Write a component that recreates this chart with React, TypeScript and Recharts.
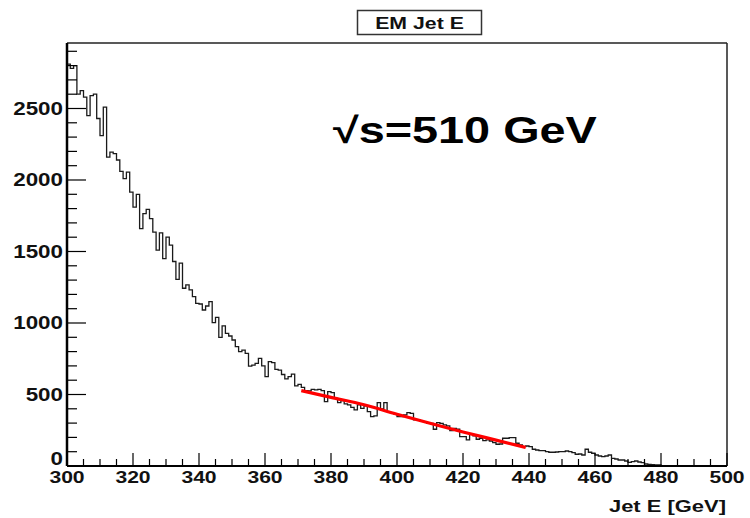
import { ComposedChart, Line, XAxis, YAxis, ReferenceLine } from "recharts";

// EM jet energy histogram, 1 GeV bins from 300 to 500 GeV
const binStart = 300;
const counts = [
  2810, 2780, 2800, 2600, 2625, 2580, 2450, 2590, 2600, 2430,
  2310, 2510, 2160, 2195, 2185, 2140, 2060, 2010, 2055, 1915,
  1810, 1900, 1660, 1765, 1795, 1730, 1635, 1510, 1630, 1450,
  1600, 1545, 1430, 1305, 1418, 1243, 1266, 1231, 1184, 1137,
  1133, 1091, 1119, 1149, 1002, 1040, 900, 980, 928, 909,
  881, 835, 800, 811, 788, 699, 706, 718, 753, 700,
  625, 730, 723, 676, 671, 640, 609, 625, 643, 560,
  571, 550, 527, 525, 536, 532, 536, 527, 450, 520,
  513, 473, 443, 457, 434, 427, 410, 392, 427, 403,
  420, 380, 345, 350, 443, 400, 443, 380, 373, 364,
  345, 345, 357, 373, 368, 322, 322, 315, 310, 298,
  298, 257, 303, 298, 287, 280, 247, 263, 257, 205,
  205, 182, 224, 210, 187, 194, 177, 182, 175, 163,
  152, 154, 194, 194, 198, 198, 159, 147, 135, 140,
  135, 117, 112, 107, 107, 100, 96, 96, 98, 100,
  100, 105, 100, 93, 82, 84, 77, 117, 96, 89,
  77, 70, 65, 70, 77, 54, 49, 42, 42, 35,
  26, 30, 35, 28, 23, 14, 12, 9, 7, 7,
  3, 0, 2, 0, 0, 1, 0, 0, 0, 0,
  0, 0, 0, 0, 0, 0, 0, 0, 0, 0,
];

// fitted curve (red)
const fitEnergy = [371, 380, 390, 400, 410, 420, 430, 439];
const fitCounts = [527, 480, 428, 362, 299, 238, 181, 130];

const xMajorLabels = [300, 320, 340, 360, 380, 400, 420, 440, 460, 480, 500];
const yMajorLabels = [0, 500, 1000, 1500, 2000, 2500];

const X_MIN = 300;
const X_MAX = 500;
const Y_MAX = 2958;

const histData = counts.map((n, i) => ({ e: binStart + i, n }));
histData.push({ e: binStart + counts.length, n: counts[counts.length - 1] });

const fitData = fitEnergy.map((e, i) => ({ e, n: fitCounts[i] }));

const xTicks: number[] = [];
for (let v = X_MIN; v <= X_MAX; v += 5) xTicks.push(v);
const yTicks: number[] = [];
for (let v = 0; v <= 2900; v += 100) yTicks.push(v);

const FONT = "'Liberation Sans', Arial, Helvetica, sans-serif";

function XTick(props: any) {
  const { x, y, payload } = props;
  const v = payload.value;
  const major = xMajorLabels.includes(v);
  return (
    <g>
      <line x1={x} x2={x} y1={y} y2={y - (major ? 13 : 7)} stroke="#000" strokeWidth={1.2} />
      {major && (
        <text
          transform={`translate(${x},${y + 17}) scale(1.28,1)`}
          textAnchor="middle"
          fontFamily={FONT}
          fontWeight="bold"
          fontSize={16.5}
          fill="#111"
        >
          {v}
        </text>
      )}
    </g>
  );
}

function YTick(props: any) {
  const { x, y, payload } = props;
  const v = payload.value;
  const major = yMajorLabels.includes(v);
  return (
    <g>
      <line x1={x} x2={x + (major ? 19 : 10)} y1={y} y2={y} stroke="#000" strokeWidth={1.2} />
      {major && (
        <text
          transform={`translate(${x - 4},${v === 0 ? y - 1 : y + 6.5}) scale(1.28,1)`}
          textAnchor="end"
          fontFamily={FONT}
          fontWeight="bold"
          fontSize={17.5}
          fill="#111"
        >
          {v}
        </text>
      )}
    </g>
  );
}

export default function App() {
  return (
    <div style={{ position: "fixed", left: 0, top: 0, width: 750, height: 518, background: "#fff" }}>
      <ComposedChart
        width={750}
        height={518}
        data={histData}
        margin={{ top: 43, right: 23, bottom: 0, left: 0 }}
      >
        <XAxis
          dataKey="e"
          type="number"
          domain={[X_MIN, X_MAX]}
          ticks={xTicks}
          interval={0}
          height={52}
          tickSize={0}
          tickMargin={0}
          tickLine={false}
          axisLine={{ stroke: "#000", strokeWidth: 2 }}
          tick={<XTick />}
          allowDataOverflow
        />
        <YAxis
          type="number"
          domain={[0, Y_MAX]}
          ticks={yTicks}
          interval={0}
          width={67}
          tickSize={0}
          tickMargin={0}
          tickLine={false}
          axisLine={{ stroke: "#000", strokeWidth: 2.5 }}
          tick={<YTick />}
          allowDataOverflow
        />
        <ReferenceLine y={Y_MAX} stroke="#222" strokeWidth={1.5} />
        <ReferenceLine x={X_MAX} stroke="#222" strokeWidth={1.5} />
        <Line
          dataKey="n"
          type="stepAfter"
          stroke="#1a1a1a"
          strokeWidth={1.3}
          dot={false}
          activeDot={false}
          isAnimationActive={false}
        />
        <Line
          data={fitData}
          dataKey="n"
          type="monotone"
          stroke="#ff0000"
          strokeWidth={3.2}
          dot={false}
          activeDot={false}
          isAnimationActive={false}
        />
      </ComposedChart>
      <svg
        width={750}
        height={518}
        style={{ position: "absolute", left: 0, top: 0, pointerEvents: "none" }}
      >
        <rect x={357.5} y={10.5} width={124} height={24} fill="#fff" stroke="#333" strokeWidth={1.5} />
        <text
          transform="translate(419.5,28.5) scale(1.33,1)"
          textAnchor="middle"
          fontFamily={FONT}
          fontWeight="bold"
          fontSize={16}
          fill="#111"
        >
          EM Jet E
        </text>
        <text
          transform="translate(333,143) scale(1.3,1)"
          fontFamily={FONT}
          fontWeight="bold"
          fontSize={36}
          fill="#000"
        >
          √s=510 GeV
        </text>
        <text
          transform="translate(726,512) scale(1.33,1)"
          textAnchor="end"
          fontFamily={FONT}
          fontWeight="bold"
          fontSize={16.5}
          fill="#111"
        >
          Jet E [GeV]
        </text>
      </svg>
    </div>
  );
}
